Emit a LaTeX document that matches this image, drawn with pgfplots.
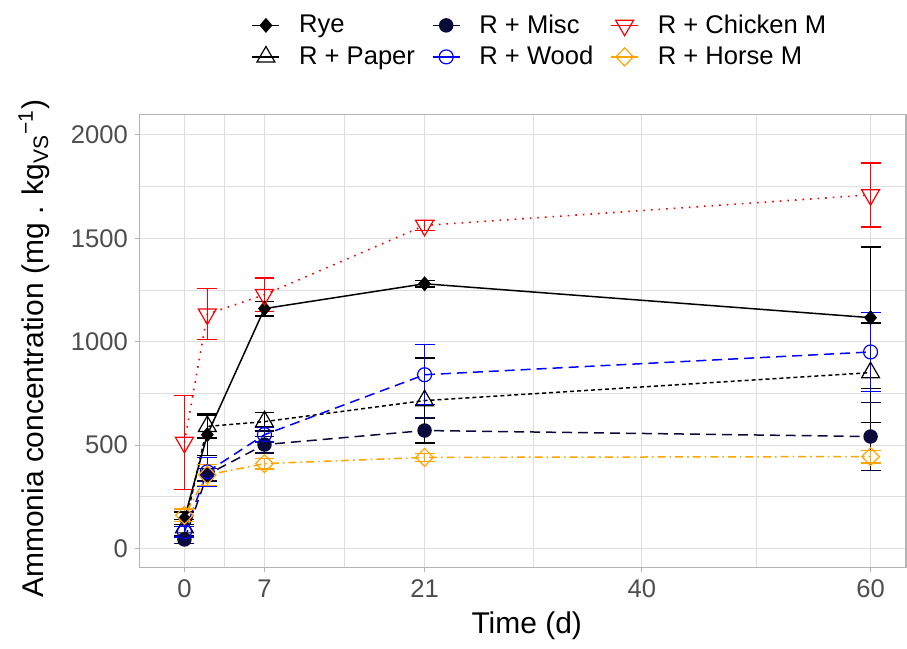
\documentclass[border=0pt]{standalone}
\usepackage{fontspec}
\setmainfont{Liberation Sans}
\usepackage{pgfplots}
\pgfplotsset{compat=1.18}

\definecolor{grey30}{HTML}{4D4D4D}
\definecolor{grey70}{HTML}{B3B3B3}
\definecolor{grey87}{HTML}{DEDEDE}
\definecolor{miscnavy}{HTML}{0B0B3B}
\definecolor{horseor}{HTML}{FFA500}

% x, mean, sd
\pgfplotstableread{
x y e
0 145 30
2 550 100
7 1160 35
21 1280 15
60 1116 343
}\rye
\pgfplotstableread{
x y e
0 43 20
2 357 30
7 502 40
21 570 60
60 541 164
}\misc
\pgfplotstableread{
x y e
0 512 227
2 1133 123
7 1227 82
21 1562 25
60 1710 155
}\chicken
\pgfplotstableread{
x y e
0 100 40
2 590 55
7 613 45
21 715 205
60 850 241
}\paper
\pgfplotstableread{
x y e
0 80 25
2 370 70
7 550 35
21 840 145
60 950 190
}\wood
\pgfplotstableread{
x y e
0 160 30
2 355 50
7 410 25
21 440 20
60 444 30
}\horse

\begin{document}
\begin{tikzpicture}
\begin{axis}[
  name=ax, at={(0,0)}, anchor=south west,
  scale only axis,
  width=383.5pt, height=226.5pt,
  xmin=-3.9, xmax=63.1, ymin=-92, ymax=2097,
  xtick={0,7,21,40,60}, ytick={0,500,1000,1500,2000},
  minor xtick={3.5,14,30.5,50}, minor ytick={250,750,1250,1750},
  grid=both,
  major grid style={grey87, line width=0.5pt},
  minor grid style={grey87, line width=0.25pt},
  axis line style={grey70, line width=0.6pt},
  xtick pos=left, ytick pos=left,
  tick align=outside,
  major tick length=2.5pt, minor tick length=0pt,
  tick style={grey70, line width=0.5pt},
  /pgf/number format/assume math mode=true,
  /pgf/number format/set thousands separator={},
  tick label style={font=\fontsize{12.8}{14}\selectfont, text=grey30},
  xlabel={Time (d)},
  ylabel={Ammonia concentration (mg . kg\textsubscript{VS}\textsuperscript{−1})},
  label style={font=\fontsize{15}{18}\selectfont},
  xlabel style={at={(axis description cs:0.505,-0.13)}, anchor=center},
  ylabel style={at={(axis description cs:-0.138,0.483)}, anchor=center},
  legend columns=3,
  legend cell align=left,
  legend image code/.code={
    \draw[mark repeat=2, mark phase=2, #1, solid]
      plot coordinates {(0pt,0pt) (6.75pt,0pt) (13.5pt,0pt)};},
  legend style={at={(0.146,1.226)}, anchor=north west, draw=none, fill=none,
    inner sep=0pt, outer sep=0pt,
    font=\fontsize{12.8}{15}\selectfont, row sep=3pt,
    nodes={inner xsep=0pt, inner ysep=1pt},
    /tikz/every odd column/.append style={column sep=9.5pt},
    /tikz/every even column/.append style={column sep=8.5pt}},
  error bars/y dir=both, error bars/y explicit,
  error bars/error mark options={rotate=90, mark size=5pt, line width=0.75pt},
  error bars/error bar style={solid, line width=0.75pt},
]
\addplot[black, solid, line width=0.75pt, mark=diamond*, mark size=3.2pt,
  mark options={solid, xscale=1.15}] table[x=x, y=y, y error=e] {\rye};
\addlegendentry{Rye}
\addplot[miscnavy, dash pattern=on 5pt off 3pt, line width=0.75pt, mark=*, mark size=3.25pt,
  mark options={solid}] table[x=x, y=y, y error=e] {\misc};
\addlegendentry{R + Misc}
\addplot[red, dash pattern=on 0.8pt off 3pt, line width=0.8pt, mark=triangle, mark size=5.2pt,
  mark options={solid, rotate=180, line width=0.6pt}] table[x=x, y=y, y error=e] {\chicken};
\addlegendentry{R + Chicken M}
\addplot[black, dash pattern=on 2pt off 1.5pt, line width=0.75pt, mark=triangle, mark size=5.2pt,
  mark options={solid, line width=0.6pt}] table[x=x, y=y, y error=e] {\paper};
\addlegendentry{R + Paper}
\addplot[blue, dash pattern=on 5pt off 3pt, line width=0.75pt, mark=o, mark size=3.5pt,
  mark options={solid, line width=0.6pt}] table[x=x, y=y, y error=e] {\wood};
\addlegendentry{R + Wood}
\addplot[horseor, dash pattern=on 0.8pt off 2pt on 4pt off 2pt, line width=0.75pt, mark=diamond, mark size=4.5pt,
  mark options={solid, xscale=1.3, line width=0.6pt}] table[x=x, y=y, y error=e] {\horse};
\addlegendentry{R + Horse M}
\end{axis}
\pgfresetboundingbox
\path[use as bounding box] (-70pt,-40.5pt) rectangle (384pt,284pt);
\end{tikzpicture}
\end{document}
